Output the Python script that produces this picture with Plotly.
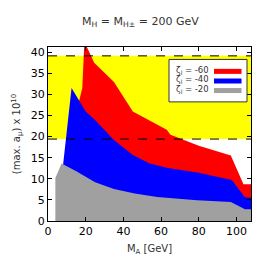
import plotly.graph_objects as go

# ---- data ----
red_x = [16.5, 18.2, 19.3, 24.5, 35, 45, 55, 63, 65, 80, 97, 103.7, 108]
red_y = [28.4, 31.5, 42.5, 37.5, 32.9, 25.9, 23.5, 21.6, 20.4, 17.8, 15.5, 8.7, 8.7]
blue_x = [8, 12.5, 20, 25, 35, 45, 54, 63, 80, 97.5, 104.5, 108]
blue_y = [13.3, 31.5, 25.9, 23.9, 19.2, 15.6, 13.6, 12.6, 11.4, 9.7, 5.6, 5.5]
gray_x = [3.9, 7.2, 15, 25, 35, 46, 58, 79, 97, 104.5, 108]
gray_y = [10.2, 13.6, 11.8, 9.2, 7.6, 6.5, 5.7, 4.9, 4.5, 2.8, 2.8]
band_low, band_high = 19.4, 39.1
band_x = [0, 108]
legend_labels = ["ζ<sub>l</sub> = -60", "ζ<sub>l</sub> = -40", "ζ<sub>l</sub> = -20"]
colors = ["#ff0000", "#0000ff", "#a0a0a0"]

FONT = "DejaVu Sans"

fig = go.Figure()

# yellow band
fig.add_trace(go.Scatter(x=band_x, y=[band_low, band_low], mode="lines",
                         line=dict(width=0), showlegend=False, hoverinfo="skip"))
fig.add_trace(go.Scatter(x=band_x, y=[band_high, band_high], mode="lines",
                         line=dict(width=0), fill="tonexty", fillcolor="#ffff00",
                         showlegend=False, hoverinfo="skip"))

def poly(xs, ys):
    return [xs[0]] + xs + [xs[-1]], [0] + ys + [0]

for xs, ys, c in [(red_x, red_y, colors[0]), (blue_x, blue_y, colors[1]), (gray_x, gray_y, colors[2])]:
    px, py = poly(xs, ys)
    fig.add_trace(go.Scatter(x=px, y=py, mode="lines", fill="toself", fillcolor=c,
                             line=dict(width=0, color=c), showlegend=False, hoverinfo="skip"))

# dashed lines
for yv in [band_low, band_high]:
    fig.add_trace(go.Scatter(x=band_x, y=[yv, yv], mode="lines",
                             line=dict(color="black", width=1, dash="dash"),
                             showlegend=False, hoverinfo="skip"))

# manual legend
shapes = [dict(type="rect", xref="paper", yref="paper",
               x0=(169 - 48) / 203, x1=(247 - 48) / 203,
               y0=(221.5 - 101.7) / 175, y1=(221.5 - 59) / 175,
               line=dict(color="#333333", width=1), fillcolor="white")]
annotations = []
rows = [71, 80.7, 90.3]
for lab, c, ry in zip(legend_labels, colors, rows):
    yp = (221.5 - ry) / 175
    shapes.append(dict(type="line", xref="paper", yref="paper",
                       x0=(214 - 48) / 203, x1=(241.5 - 48) / 203, y0=yp, y1=yp,
                       line=dict(color=c, width=5)))
    annotations.append(dict(text=lab, xref="paper", yref="paper",
                            x=(174 - 48) / 203, y=yp + 0.006, xanchor="left", yanchor="middle",
                            showarrow=False, height=9, valign="middle",
                            font=dict(family=FONT, size=8.5, color="#333333")))

fig.update_layout(
    width=270, height=270,
    margin=dict(l=48, r=19, t=46.5, b=48.5),
    paper_bgcolor="white", plot_bgcolor="white",
    font=dict(family=FONT, size=11, color="black"),
    title=dict(text="M<sub>H</sub> = M<sub>H±</sub> = 200 GeV", x=0.52, xanchor="center",
               y=0.922, yanchor="middle", font=dict(family=FONT, size=11, color="#333333")),
    shapes=shapes, annotations=annotations,
    xaxis=dict(range=[0, 107.7], tickvals=[0, 20, 40, 60, 80, 100], ticks="inside",
               ticklen=4, tickcolor="black", showline=True, linecolor="black", linewidth=1,
               mirror="allticks", showgrid=False, zeroline=False,
               title=dict(text="M<sub>A</sub> [GeV]", font=dict(family=FONT, size=10, color="#333333"),
                          standoff=7)),
    yaxis=dict(range=[0, 41.2], tickvals=[0, 5, 10, 15, 20, 25, 30, 35, 40], ticks="inside",
               ticklen=4, tickcolor="black", showline=True, linecolor="black", linewidth=1,
               mirror="allticks", showgrid=False, zeroline=False,
               title=dict(text="(max. a<sub>μ</sub>) x 10<sup>10</sup>",
                          font=dict(family=FONT, size=10, color="#333333"), standoff=8)),
)

fig.write_html("out.html", config={"displayModeBar": False},
               post_script="document.body.style.margin='0';")
